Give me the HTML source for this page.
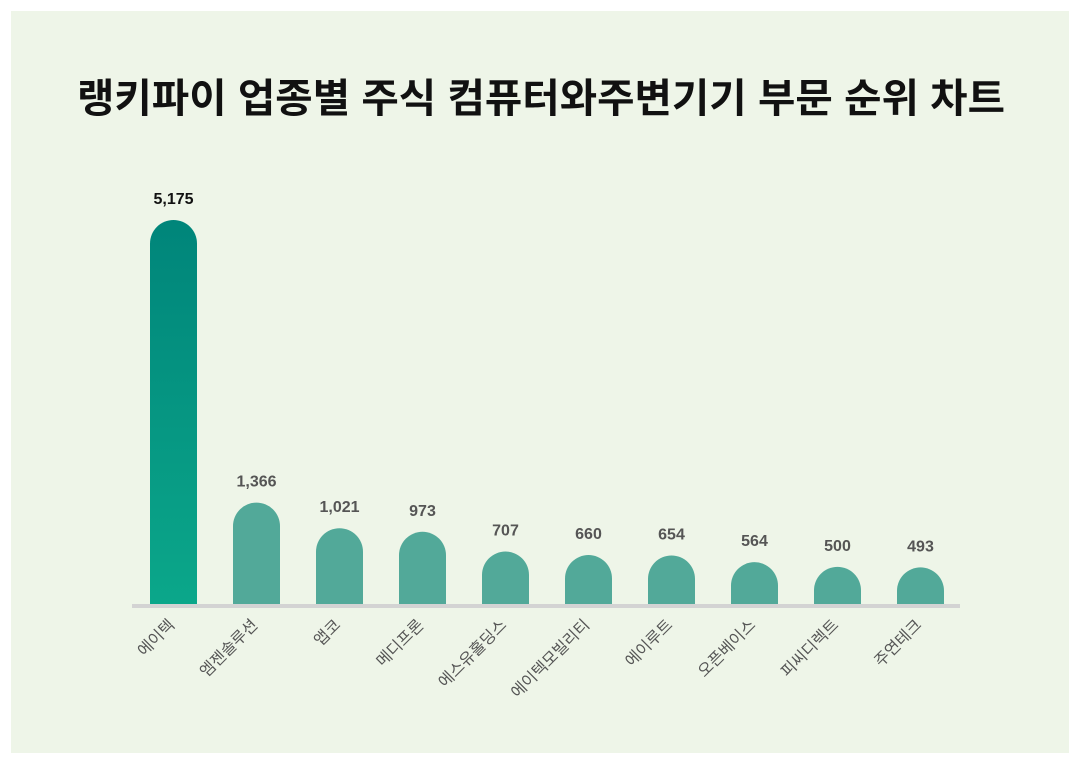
<!DOCTYPE html>
<html><head><meta charset="utf-8"><style>
html,body{margin:0;padding:0;background:#fff;}
svg{display:block;font-family:"Liberation Sans","Noto Sans CJK KR",sans-serif;}
</style></head><body>
<svg width="1080" height="764" viewBox="0 0 1080 764">
<defs>
<linearGradient id="g1" x1="0" y1="0" x2="0" y2="1">
<stop offset="0" stop-color="#00857a"/><stop offset="1" stop-color="#0ba78a"/>
</linearGradient>
</defs>
<rect x="0" y="0" width="1080" height="764" fill="#fff"/>
<rect x="11" y="11" width="1058" height="742" fill="#eef5e8"/>
<text x="541" y="112" text-anchor="middle" font-size="40" font-weight="bold" fill="#111" textLength="928" lengthAdjust="spacingAndGlyphs">랭키파이 업종별 주식 컴퓨터와주변기기 부문 순위 차트</text>
<rect x="132" y="604" width="828" height="4" fill="#d3d3d3"/>
<g id="bars"></g>
</svg>
<script>
var d=[["에이텍",5175],["엠젠솔루션",1366],["앱코",1021],["메디프론",973],["에스유홀딩스",707],["에이텍모빌리티",660],["에이루트",654],["오픈베이스",564],["피씨디렉트",500],["주연테크",493]];
var g=document.getElementById('bars'),s='';
d.forEach(function(e,i){
var cx=173.5+i*83,w=47,x=cx-w/2,top=604-e[1]/5175*384,r=23.5;
var fill=i==0?'url(#g1)':'#52a999';
s+='<path d="M'+x+' 604 L'+x+' '+(top+r)+' A'+r+' '+r+' 0 0 1 '+(x+w)+' '+(top+r)+' L'+(x+w)+' 604 Z" fill="'+fill+'"/>';
s+='<text x="'+cx+'" y="'+(top-16)+'" text-anchor="middle" font-size="16" font-weight="bold" fill="'+(i==0?'#111':'#555')+'">'+e[1].toLocaleString('en-US')+'</text>';
s+='<text transform="translate('+(cx+2)+',626) rotate(-45)" text-anchor="end" font-size="16" fill="#555">'+e[0]+'</text>';
});
g.innerHTML=s;
</script>
</body></html>
